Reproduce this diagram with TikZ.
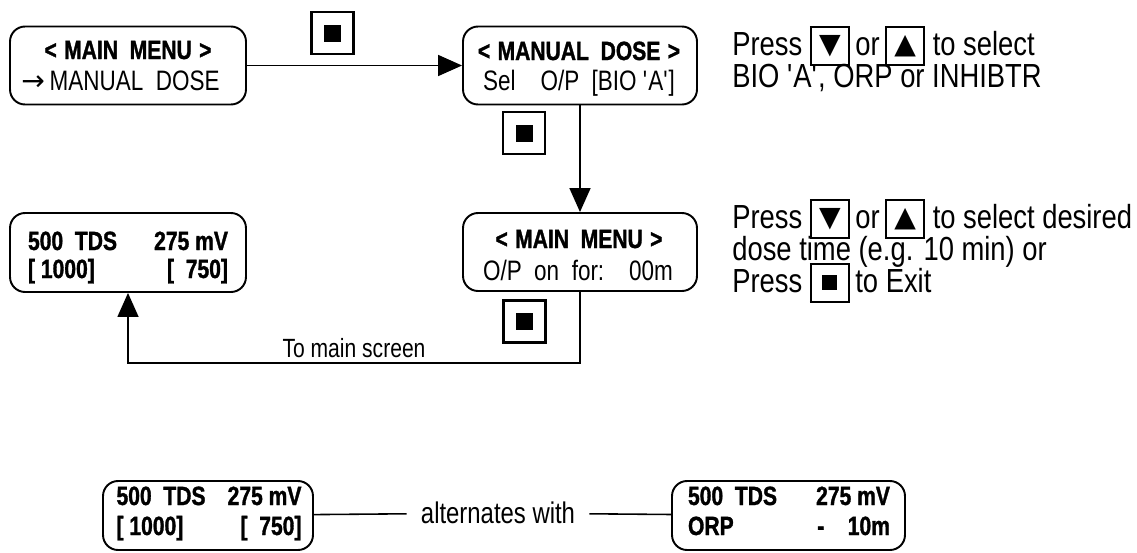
\documentclass[tikz,border=0pt]{standalone}
\usepackage{fontspec}
\usetikzlibrary{arrows.meta}
\setmainfont{Liberation Sans}
\newfontfamily\lcdfont[FakeStretch=0.8]{Liberation Sans}
\newfontfamily\lcdbold[FakeStretch=0.8, FakeBold=1.2]{Liberation Sans Bold}
\newfontfamily\narrowfont[FakeStretch=0.82]{Liberation Sans}
\newfontfamily\symfont{DejaVu Sans}
\newcommand{\keycap}[1]{\raisebox{-5.2pt}[0pt][0pt]{\setlength{\fboxsep}{0pt}\setlength{\fboxrule}{1pt}%
  \fbox{\vbox to 20.7pt{\vss\hbox to 20.7pt{\hss{\symfont\fontsize{16}{16}\selectfont#1}\hss}\vss}}}}

\begin{document}
\begin{tikzpicture}[x=0.02cm, y=-0.02cm,
    lcdbox/.style={draw, line width=1.1pt, rounded corners=0.3cm,
        minimum width=4.72cm, minimum height=1.56cm},
    keybox/.style={draw, line width=1.2pt, minimum size=0.84cm, inner sep=0pt},
    lcdhead/.style={inner sep=0pt, anchor=base, font=\lcdbold\fontsize{15}{15}\selectfont},
    lcdtext/.style={inner sep=0pt, anchor=base, font=\lcdfont\fontsize{16}{16}\selectfont},
    notetext/.style={inner sep=0pt, anchor=base west, font=\narrowfont\fontsize{19}{19}\selectfont},
    link/.style={line width=0.9pt},
    flow/.style={link, -{Triangle[length=0.48cm, width=0.42cm]}}]

    \useasboundingbox (0,0) rectangle (1137,552);

    % main menu screen
    \node[lcdbox] (mainmenu) at (128,65.5) {};
    \node[lcdhead] (mainmenuhead) at (128,59) {<\;MAIN~~MENU\;>};
    \node[lcdtext, anchor=base west] (mainmenuitem) at (21,90) {{\symfont→}\,MANUAL~~DOSE};

    % manual dose screen
    \node[lcdbox, minimum width=4.68cm] (manual) at (580,65.5) {};
    \node[lcdhead] (manualhead) at (579,60) {<\;MANUAL~~DOSE\;>};
    \node[lcdtext] (manualsel) at (579,90) {Sel~~~~O/P~~[BIO~\textquotesingle A\textquotesingle]};

    % dose time screen
    \node[lcdbox, minimum width=4.68cm] (dosetime) at (580,252) {};
    \node[lcdhead] (dosetimehead) at (579,248) {<\;MAIN~~MENU\;>};
    \node[lcdtext] (dosetimeval) at (578,280) {O/P~~on~~for:~~~~00m};

    % home screen
    \node[lcdbox, minimum height=1.58cm] (home) at (128,252.5) {};
    \node[lcdhead] (homeline1) at (128,250) {\makebox[4cm]{500~~TDS\hfill275~mV}};
    \node[lcdhead] (homeline2) at (128,278) {\makebox[4cm]{[~1000]\hfill[~~750]}};

    % enter keys
    \node[keybox] (enter1) at (332.5,33) {\rule{0.34cm}{0.34cm}};
    \node[keybox] (enter2) at (524,133) {\rule{0.34cm}{0.34cm}};
    \node[keybox] (enter3) at (524.5,321.5) {\rule{0.34cm}{0.34cm}};

    % flow
    \coordinate (back) at (128,363);
    \draw[flow] (mainmenu) -- (manual);
    \draw[flow] (manual) -- (dosetime);
    \draw[flow] (dosetime.south) |- (back) -- (home.south);
    \node[lcdtext, font=\lcdfont\fontsize{15}{15}\selectfont] (backlabel) at (354,357) {To main screen};

    % notes
    \node[notetext] (selnote1) at (732,55) {Press\ \keycap{▼}\,or\,\keycap{▲}\ to select};
    \node[notetext] (selnote2) at (732,87) {BIO \textquotesingle A\textquotesingle, ORP or INHIBTR};
    \node[notetext] (dosenote1) at (732,228) {Press\ \keycap{▼}\,or\,\keycap{▲}\ to select desired};
    \node[notetext] (dosenote2) at (732,260) {dose time (e.g. 10 min) or};
    \node[notetext] (dosenote3) at (732,292) {Press\ \keycap{\rule{8.5pt}{8.5pt}}\,to Exit};

    % alternating display
    \node[lcdbox, minimum width=4.2cm, minimum height=1.38cm] (tds) at (208,515.5) {};
    \node[lcdhead] (tdsline1) at (209,505) {\makebox[3.7cm]{500~~TDS\hfill275~mV}};
    \node[lcdhead] (tdsline2) at (209,535) {\makebox[3.7cm]{[~1000]\hfill[~~750]}};
    \node[lcdbox, minimum width=4.66cm, minimum height=1.38cm] (orp) at (788.5,515.5) {};
    \node[lcdhead] (orpline1) at (789,505) {\makebox[4.04cm]{500~~TDS\hfill275~mV}};
    \node[lcdhead] (orpline2) at (789,535) {\makebox[4.04cm]{ORP\hfill-~~~~10m}};
    \node[lcdtext, font=\lcdfont\fontsize{17}{17}\selectfont, inner xsep=0.28cm, inner ysep=0.2cm, anchor=center] (altlabel) at (498,513) {alternates with};
    \draw[link] (tds) -- (altlabel);
    \draw[link] (altlabel) -- (orp);
\end{tikzpicture}
\end{document}
